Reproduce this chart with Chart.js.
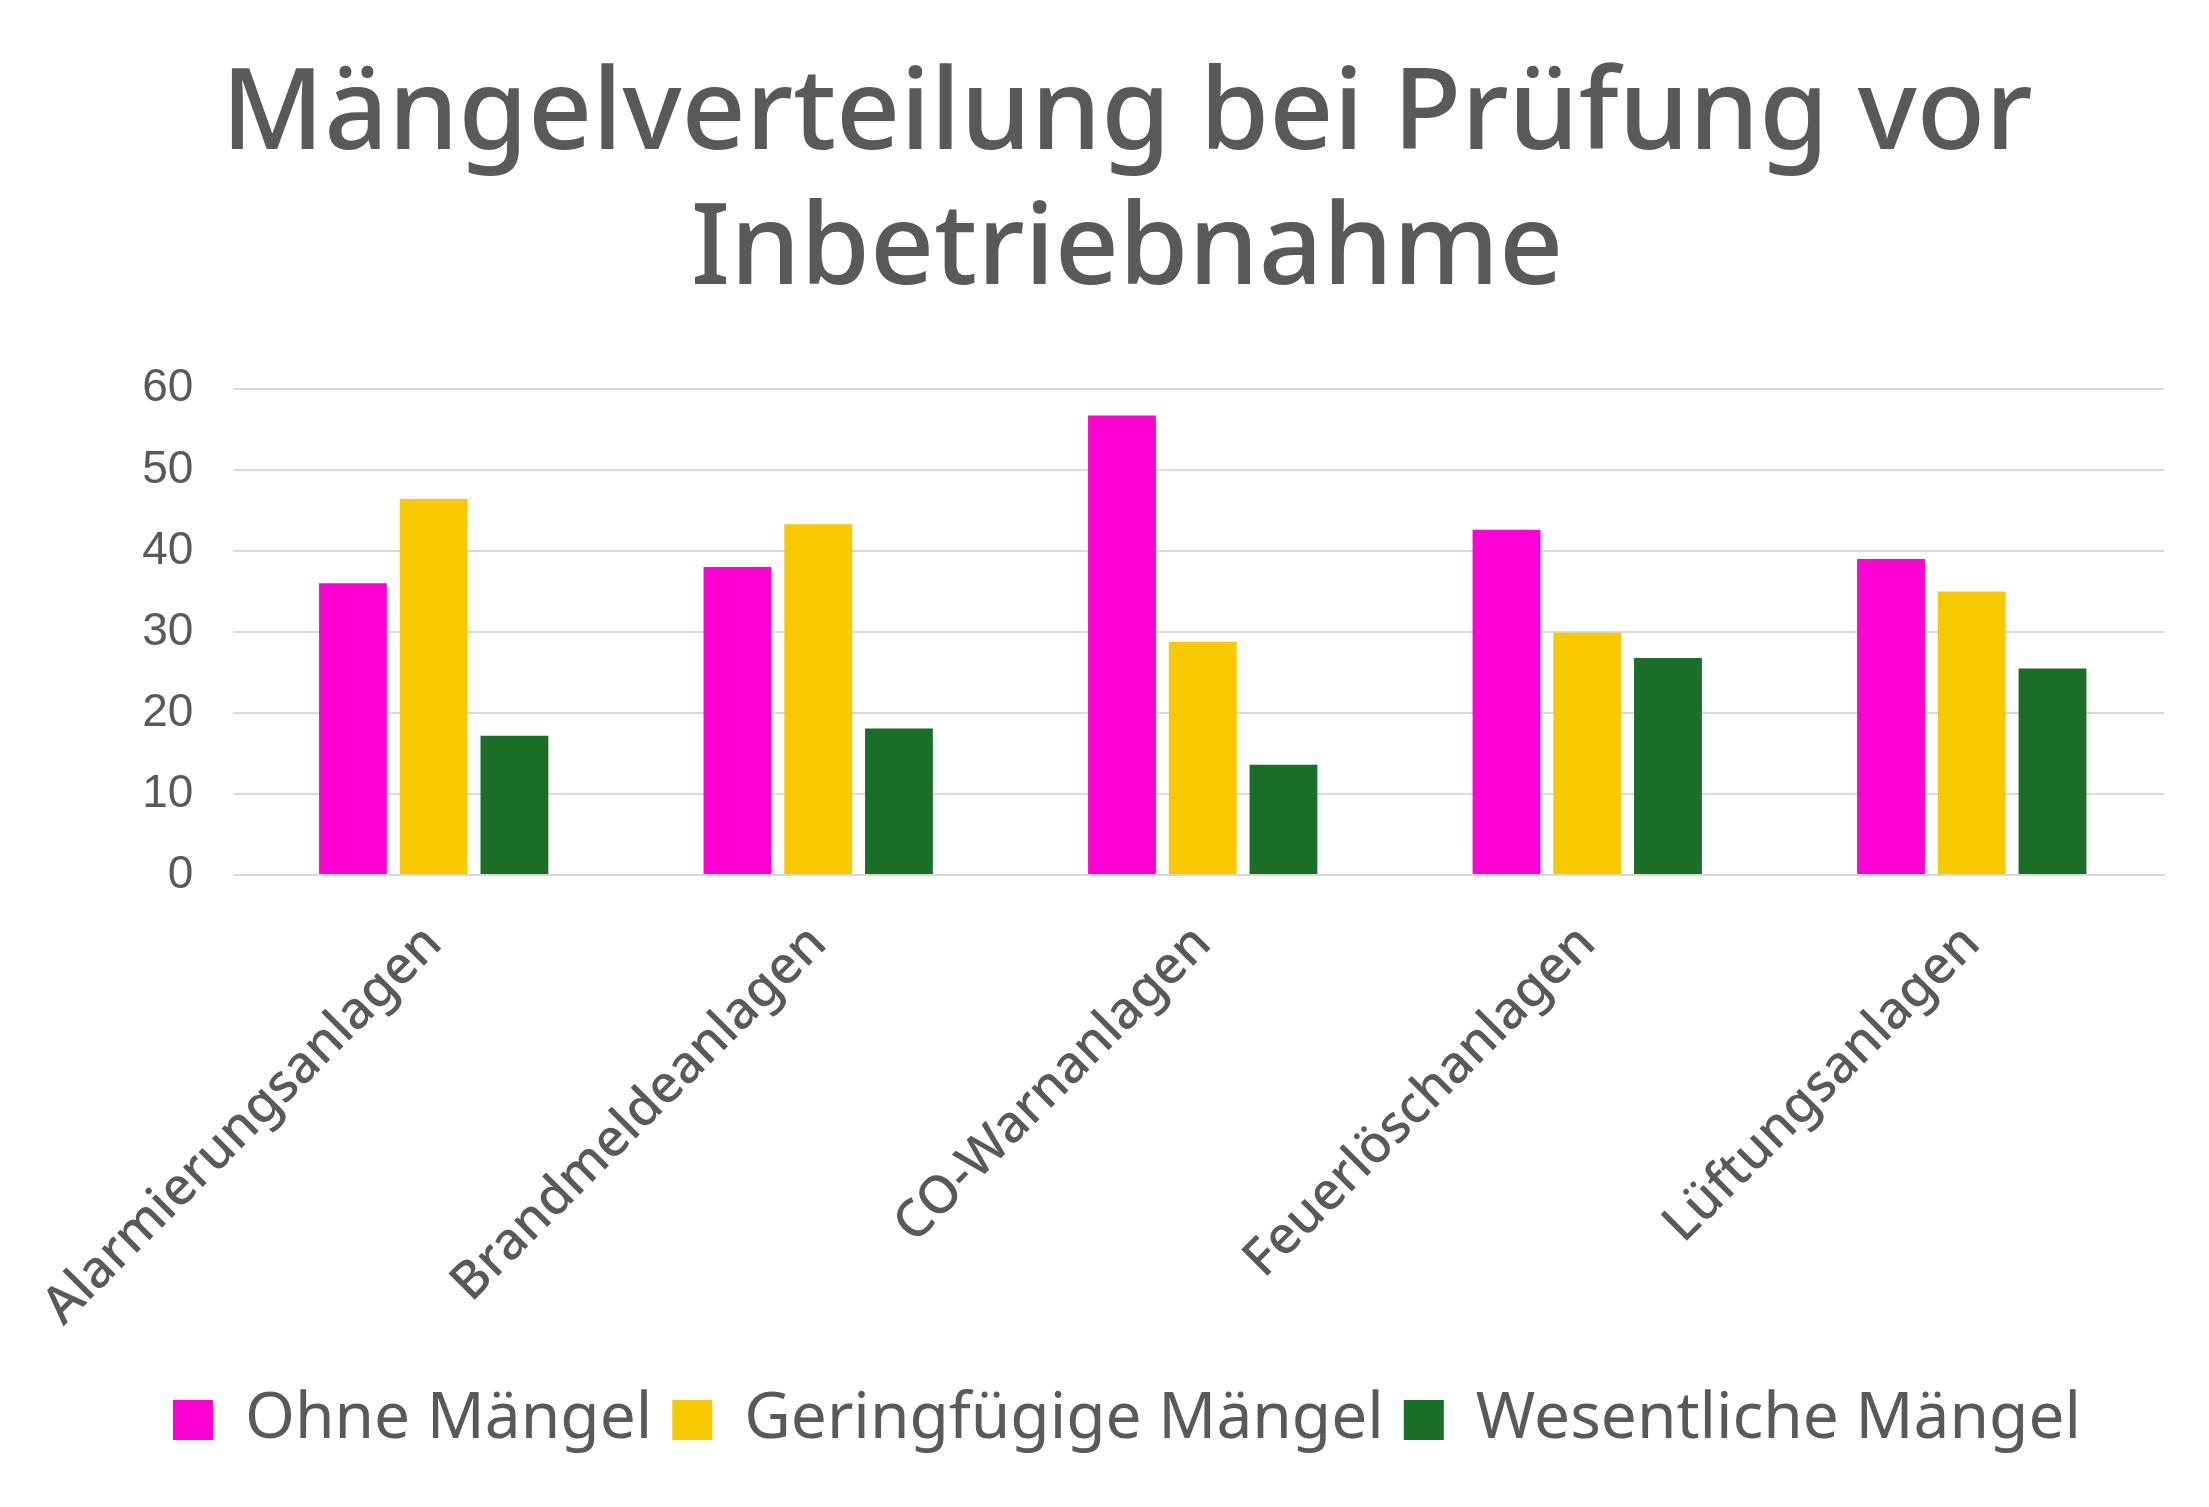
<!DOCTYPE html>
<html lang="de">
<head>
<meta charset="UTF-8" />
<title>Mängelverteilung</title>
<script src="https://cdn.jsdelivr.net/npm/chart.js"></script>
<style>
  html, body { margin: 0; background: #fff; }
  #wrap { width: 2209px; height: 1507px; }
</style>
</head>
<body>
<div id="wrap"><canvas id="chart"></canvas></div>
<script>
const categories = ["Alarmierungsanlagen", "Brandmeldeanlagen", "CO-Warnanlagen", "Feuerlöschanlagen", "Lüftungsanlagen"];
const ohneMaengel = [36, 38, 56.7, 42.6, 39];
const geringfuegig = [46.4, 43.3, 28.8, 29.9, 35];
const wesentlich = [17.2, 18.1, 13.6, 26.8, 25.5];

const grey = "#595959";
const font = "'Noto Sans', sans-serif";

new Chart(document.getElementById("chart"), {
  type: "bar",
  data: {
    labels: categories,
    datasets: [
      { label: "Ohne Mängel", data: ohneMaengel, backgroundColor: "#ff00d4" },
      { label: "Geringfügige Mängel", data: geringfuegig, backgroundColor: "#f9c900" },
      { label: "Wesentliche Mängel", data: wesentlich, backgroundColor: "#1a6e26" },
    ],
  },
  options: {
    responsive: true,
    maintainAspectRatio: false,
    animation: false,
    categoryPercentage: 0.63,
    barPercentage: 0.84,
    layout: { padding: { left: 90, right: 45, top: 30, bottom: 45 } },
    plugins: {
      title: {
        display: true,
        text: ["Mängelverteilung bei Prüfung vor", "Inbetriebnahme"],
        color: grey,
        font: { family: font, size: 112, weight: "500" },
        lineHeight: 1.4,
        padding: { top: 20, bottom: 70 },
      },
      legend: {
        position: "bottom",
        labels: {
          color: grey,
          font: { family: font, size: 64 },
          boxWidth: 40,
          boxHeight: 40,
          padding: 20,
        },
      },
      tooltip: { enabled: false },
    },
    scales: {
      x: {
        grid: { display: false },
        border: { color: "#d9d9d9", width: 2 },
        ticks: {
          color: grey,
          font: { family: font, size: 52, weight: "500" },
          maxRotation: 45,
          minRotation: 45,
          padding: 30,
        },
      },
      y: {
        min: 0,
        max: 60,
        grid: { color: "#d9d9d9", lineWidth: 2 },
        border: { display: false },
        ticks: {
          stepSize: 10,
          color: grey,
          font: { family: "'Liberation Sans', sans-serif", size: 46 },
          padding: 40,
        },
      },
    },
  },
});
</script>
</body>
</html>
